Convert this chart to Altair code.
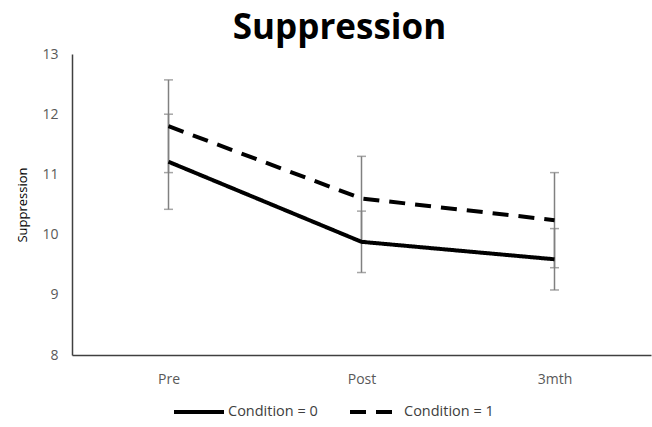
import altair as alt
import pandas as pd

times = ["Pre", "Post", "3mth"]
conditions = ["Condition = 0", "Condition = 1"]
means_c0 = [11.21, 9.88, 9.59]
lower_c0 = [10.42, 9.37, 9.08]
upper_c0 = [12.00, 10.39, 10.10]
means_c1 = [11.80, 10.60, 10.24]
lower_c1 = [11.03, 9.90, 9.45]
upper_c1 = [12.57, 11.30, 11.03]

rows = []
for cond, m, lo, hi in [(conditions[0], means_c0, lower_c0, upper_c0),
                        (conditions[1], means_c1, lower_c1, upper_c1)]:
    for t, mv, l, h in zip(times, m, lo, hi):
        rows.append({"time": t, "cond": cond, "mean": mv, "lo": l, "hi": h})
df = pd.DataFrame(rows)

FONT = "Open Sans"
x = alt.X("time:N", sort=times, scale=alt.Scale(type="point", padding=0.5),
          axis=alt.Axis(title=None, labelAngle=0, ticks=False, labelPadding=17,
                        labelFontSize=14, labelColor="#595959", labelFont=FONT,
                        domainColor="#404040", domainWidth=1.5))
y_scale = alt.Scale(domain=[8, 13], nice=False, zero=False)

base = alt.Chart(df)

bars = base.mark_rule(color="#808080", strokeWidth=1.5).encode(
    x=x, y=alt.Y("lo:Q", scale=y_scale), y2="hi:Q")
cap_lo = base.mark_tick(color="#808080", thickness=1.5, size=9).encode(
    x=x, y=alt.Y("lo:Q", scale=y_scale))
cap_hi = base.mark_tick(color="#808080", thickness=1.5, size=9).encode(
    x=x, y=alt.Y("hi:Q", scale=y_scale))

lines = base.mark_line(color="black", strokeWidth=4).encode(
    x=x,
    y=alt.Y("mean:Q", scale=y_scale,
            axis=alt.Axis(title="Suppression", values=[8, 9, 10, 11, 12, 13],
                          format="d", grid=False, ticks=False, labelPadding=14,
                          labelFontSize=14, labelColor="#595959", labelFont=FONT,
                          titleFontSize=13, titleFont=FONT, titleFontWeight="normal",
                          titleColor="#000000", titlePadding=12,
                          domainColor="#404040", domainWidth=1.5)),
    strokeDash=alt.StrokeDash("cond:N",
                              scale=alt.Scale(domain=conditions, range=[[1, 0], [16, 10]]),
                              legend=alt.Legend(title=None, orient="none",
                                                legendX=100, legendY=331,
                                                direction="horizontal",
                                                symbolType="stroke", symbolSize=2500,
                                                symbolStrokeWidth=4,
                                                symbolStrokeColor="black",
                                                labelFontSize=14.5, labelFont=FONT,
                                                labelColor="#404040",
                                                columnPadding=24, labelOffset=2)),
    detail="cond:N")

chart = alt.layer(bars, cap_lo, cap_hi, lines).properties(
    width=579, height=301,
    title=alt.TitleParams("Suppression", fontSize=35, fontWeight="bold", font=FONT,
                          color="black", anchor="middle", offset=1, dx=-22),
    autosize=alt.AutoSizeParams(type="none"),
    padding={"left": 72, "top": 54, "right": 1, "bottom": 72},
).configure(background="white", view=alt.ViewConfig(stroke=None))

chart.save("out.html", embed_options={"renderer": "svg", "actions": False})
